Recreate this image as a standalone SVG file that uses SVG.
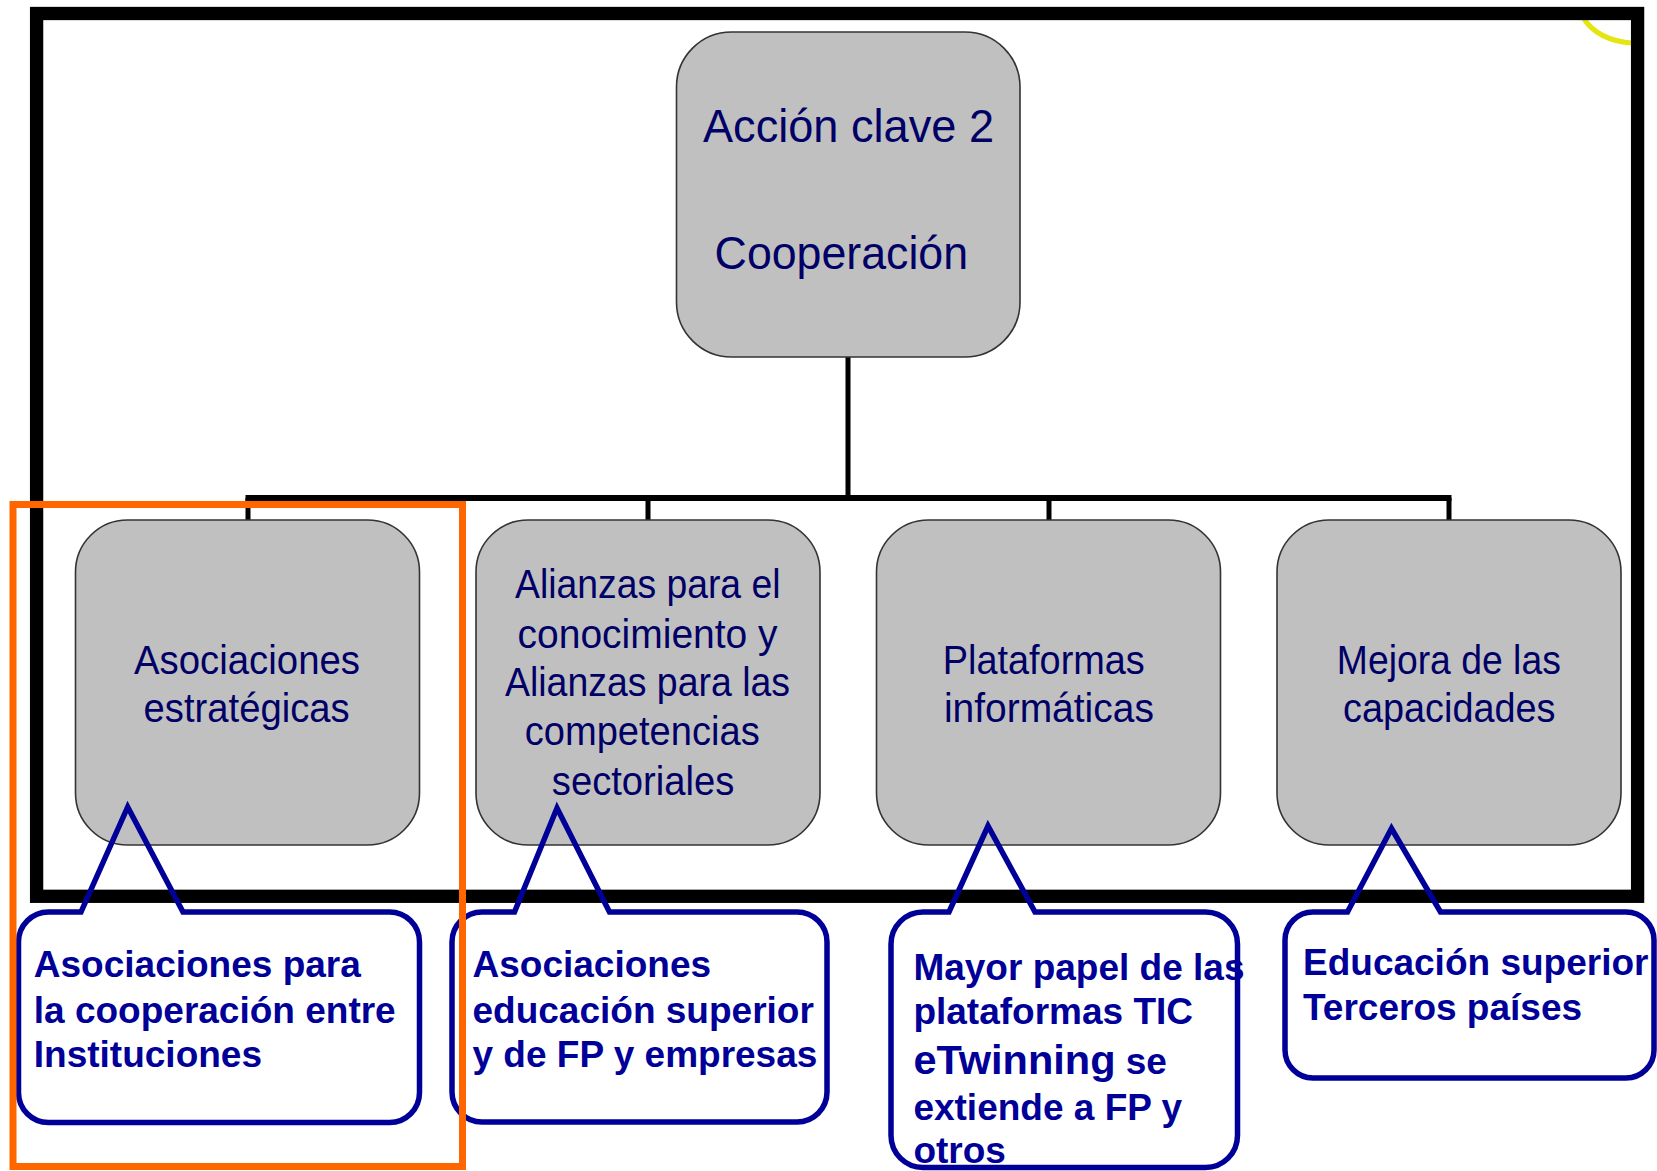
<svg xmlns="http://www.w3.org/2000/svg" width="1657" height="1171" viewBox="0 0 1657 1171">
<style>
.node{fill:#c0c0c0;stroke:#333;stroke-width:1.6}
.nt{font-family:"Liberation Sans",Arial,sans-serif;font-size:41px;fill:#000066}
.tt{font-family:"Liberation Sans",Arial,sans-serif;font-size:47px;fill:#000066}
.co{fill:none;stroke:#000099;stroke-width:5.5;stroke-linejoin:miter}
.ct{font-family:"Liberation Sans",Arial,sans-serif;font-size:37px;font-weight:bold;fill:#000099}
.ln{stroke:#000;fill:none}
</style>
<rect width="1657" height="1171" fill="#fff"/>
<path d="M1584,19 Q1598,40 1631,43" fill="none" stroke="#e5e510" stroke-width="5"/>
<rect id="frame" x="36.6" y="13.5" width="1601" height="882.8" fill="none" stroke="#000" stroke-width="13.3"/>
<g id="connectors">
<path class="ln" d="M848,357 V498" stroke-width="5"/>
<path class="ln" d="M245.5,498 H1451.5" stroke-width="6"/>
<path class="ln" d="M248,498 V520 M648,498 V520 M1049,498 V520 M1449,498 V520" stroke-width="5"/>
</g>
<g id="node-top">
<rect class="node" x="676.5" y="32" width="343.5" height="325" rx="55"/>
<text class="tt" x="703" y="142" textLength="291" lengthAdjust="spacingAndGlyphs">Acción clave 2</text>
<text class="tt" x="714.6" y="268.5" textLength="253.5" lengthAdjust="spacingAndGlyphs">Cooperación</text>
</g>
<g id="node-asociaciones">
<rect class="node" x="75.5" y="520" width="344" height="325" rx="52"/>
<text class="nt" x="134" y="674" textLength="226" lengthAdjust="spacingAndGlyphs">Asociaciones</text>
<text class="nt" x="143.6" y="722" textLength="206" lengthAdjust="spacingAndGlyphs">estratégicas</text>
</g>
<g id="node-alianzas">
<rect class="node" x="476" y="520" width="344" height="325" rx="52"/>
<text class="nt" x="515" y="598" textLength="265.5" lengthAdjust="spacingAndGlyphs">Alianzas para el</text>
<text class="nt" x="517.6" y="647.5" textLength="260" lengthAdjust="spacingAndGlyphs">conocimiento y</text>
<text class="nt" x="505" y="696" textLength="285" lengthAdjust="spacingAndGlyphs">Alianzas para las</text>
<text class="nt" x="524.7" y="745" textLength="235" lengthAdjust="spacingAndGlyphs">competencias</text>
<text class="nt" x="551.8" y="794.5" textLength="182.6" lengthAdjust="spacingAndGlyphs">sectoriales</text>
</g>
<g id="node-plataformas">
<rect class="node" x="876.5" y="520" width="344" height="325" rx="52"/>
<text class="nt" x="942.8" y="674" textLength="202" lengthAdjust="spacingAndGlyphs">Plataformas</text>
<text class="nt" x="943.9" y="722" textLength="210" lengthAdjust="spacingAndGlyphs">informáticas</text>
</g>
<g id="node-mejora">
<rect class="node" x="1277" y="520" width="344" height="325" rx="52"/>
<text class="nt" x="1336.8" y="674" textLength="224" lengthAdjust="spacingAndGlyphs">Mejora de las</text>
<text class="nt" x="1343" y="722" textLength="212.5" lengthAdjust="spacingAndGlyphs">capacidades</text>
</g>
<g id="callout-1">
<path class="co" d="M48.5,912 H81 L127.7,807 L183,912 H389.5 A30,30 0 0 1 419.5,942 V1092.5 A30,30 0 0 1 389.5,1122.5 H48.5 A30,30 0 0 1 18.5,1092.5 V942 A30,30 0 0 1 48.5,912 Z"/>
<text class="ct" x="33.8" y="977">Asociaciones para</text>
<text class="ct" x="33.8" y="1022.5">la cooperación entre</text>
<text class="ct" x="33.8" y="1067">Instituciones</text>
</g>
<g id="callout-2">
<path class="co" d="M482,912 H514.5 L557,808 L609.5,912 H797 A30,30 0 0 1 827,942 V1092 A30,30 0 0 1 797,1122 H482 A30,30 0 0 1 452,1092 V942 A30,30 0 0 1 482,912 Z"/>
<text class="ct" x="472.5" y="977">Asociaciones</text>
<text class="ct" x="472.5" y="1022.5">educación superior</text>
<text class="ct" x="472.5" y="1067">y de FP y empresas</text>
</g>
<g id="callout-3">
<path class="co" d="M923,912 H949 L988,826 L1035,912 H1205.5 A32,32 0 0 1 1237.5,944 V1135.5 A32,32 0 0 1 1205.5,1167.5 H923 A32,32 0 0 1 891,1135.5 V944 A32,32 0 0 1 923,912 Z"/>
<text class="ct" x="913.4" y="979.5">Mayor papel de las</text>
<text class="ct" x="913.4" y="1023.5">plataformas TIC</text>
<text class="ct" x="913.4" y="1074"><tspan font-size="41.5">eTwinning</tspan> se</text>
<text class="ct" x="913.4" y="1119.5">extiende a FP y</text>
<text class="ct" x="913.4" y="1163">otros</text>
</g>
<g id="callout-4">
<path class="co" d="M1313,912 H1347.5 L1391.5,828.5 L1440.5,912 H1626 A28,28 0 0 1 1654,940 V1050 A28,28 0 0 1 1626,1078 H1313 A28,28 0 0 1 1285,1050 V940 A28,28 0 0 1 1313,912 Z"/>
<text class="ct" x="1303" y="975">Educación superior</text>
<text class="ct" x="1303" y="1019.5">Terceros países</text>
</g>
<rect id="highlight" x="13" y="504.5" width="449.5" height="662" fill="none" stroke="#ff6600" stroke-width="7"/>
</svg>
